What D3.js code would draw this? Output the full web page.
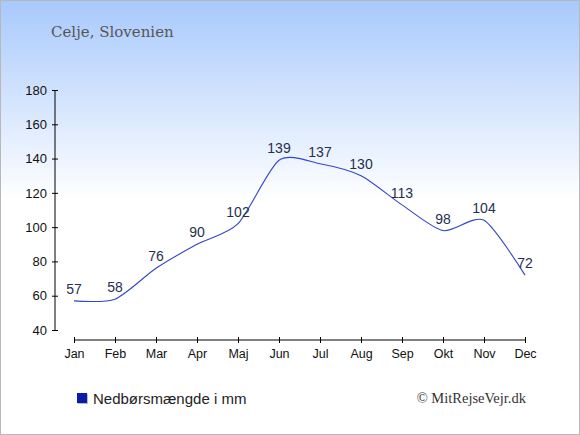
<!DOCTYPE html>
<html>
<head>
<meta charset="utf-8">
<script src="https://cdn.jsdelivr.net/npm/d3@7"></script>
<style>
  html, body { margin: 0; padding: 0; background: #fff; }
  svg { display: block; }
  .axis text { font-family: "Liberation Sans", Arial, sans-serif; fill: #111; }
</style>
</head>
<body>
<svg id="chart" width="580" height="435"></svg>
<script>
// chart data
const months = ["Jan", "Feb", "Mar", "Apr", "Maj", "Jun", "Jul", "Aug", "Sep", "Okt", "Nov", "Dec"];
const rainfall = [57, 58, 76, 90, 102, 139, 137, 130, 113, 98, 104, 72];
const yTicks = [40, 60, 80, 100, 120, 140, 160, 180];
const title = "Celje, Slovenien";
const legendLabel = "Nedbørsmængde i mm";
const credit = "© MitRejseVejr.dk";

const width = 580, height = 435;
const svg = d3.select("#chart");

// background gradient
const defs = svg.append("defs");
const grad = defs.append("linearGradient")
    .attr("id", "bg").attr("x1", 0).attr("y1", 0).attr("x2", 0).attr("y2", 1);
grad.append("stop").attr("offset", "0%").attr("stop-color", "#a8c9fc");
grad.append("stop").attr("offset", "46%").attr("stop-color", "#ffffff");
grad.append("stop").attr("offset", "100%").attr("stop-color", "#ffffff");

svg.append("rect")
    .attr("x", 0.5).attr("y", 0.5)
    .attr("width", width - 1).attr("height", height - 1)
    .attr("fill", "url(#bg)")
    .attr("stroke", "#b8b8b8");

svg.append("text")
    .attr("x", 51).attr("y", 37)
    .attr("font-family", "'DejaVu Serif', serif")
    .attr("font-size", 15)
    .attr("fill", "#555")
    .text(title);

const x = d3.scalePoint().domain(months).range([74, 525]);
const y = d3.scaleLinear().domain([40, 180]).range([330, 90]);

// y axis
const yAxis = svg.append("g")
    .attr("class", "axis y")
    .attr("transform", "translate(55,0)")
    .call(d3.axisLeft(y).tickValues(yTicks).tickSize(3).tickPadding(5));
yAxis.select(".domain").attr("stroke", "#000").attr("d", "M0," + y(40) + "V" + y(180));
yAxis.selectAll(".tick line").attr("x1", 3).attr("stroke", "#000");
yAxis.selectAll("text").attr("font-size", 13);

// x axis
const xAxis = svg.append("g")
    .attr("class", "axis x")
    .attr("transform", "translate(0,340)")
    .call(d3.axisBottom(x).tickSize(3).tickPadding(6));
xAxis.select(".domain").attr("stroke", "#000").attr("d", "M" + x("Jan") + ",0H" + x("Dec"));
xAxis.selectAll(".tick line").attr("y1", -3).attr("stroke", "#000");
xAxis.selectAll("text").attr("font-size", 12.5);

// series line
const line = d3.line()
    .x((d, i) => x(months[i]))
    .y(d => y(d))
    .curve(d3.curveCardinal.tension(0.25));

svg.append("path")
    .datum(rainfall)
    .attr("fill", "none")
    .attr("stroke", "#3344c8")
    .attr("stroke-width", 1.1)
    .attr("d", line);

// value labels
svg.append("g").selectAll("text")
    .data(rainfall)
    .join("text")
    .attr("x", (d, i) => x(months[i]))
    .attr("y", d => y(d) - 7)
    .attr("text-anchor", "middle")
    .attr("font-family", "'Liberation Sans', Arial, sans-serif")
    .attr("font-size", 14)
    .attr("fill", "#1f3050")
    .text(d => d);

// legend
svg.append("rect")
    .attr("x", 78).attr("y", 394).attr("width", 10).attr("height", 10)
    .attr("fill", "#bbb");
svg.append("rect")
    .attr("x", 77).attr("y", 393).attr("width", 10).attr("height", 10)
    .attr("fill", "#0a1aaa");
svg.append("text")
    .attr("x", 93).attr("y", 404)
    .attr("font-family", "'Liberation Sans', Arial, sans-serif")
    .attr("font-size", 15)
    .attr("fill", "#222")
    .text(legendLabel);

svg.append("text")
    .attr("x", 526).attr("y", 403)
    .attr("text-anchor", "end")
    .attr("font-family", "'Liberation Serif', serif")
    .attr("font-size", 14.5)
    .attr("fill", "#333")
    .text(credit);
</script>
</body>
</html>
